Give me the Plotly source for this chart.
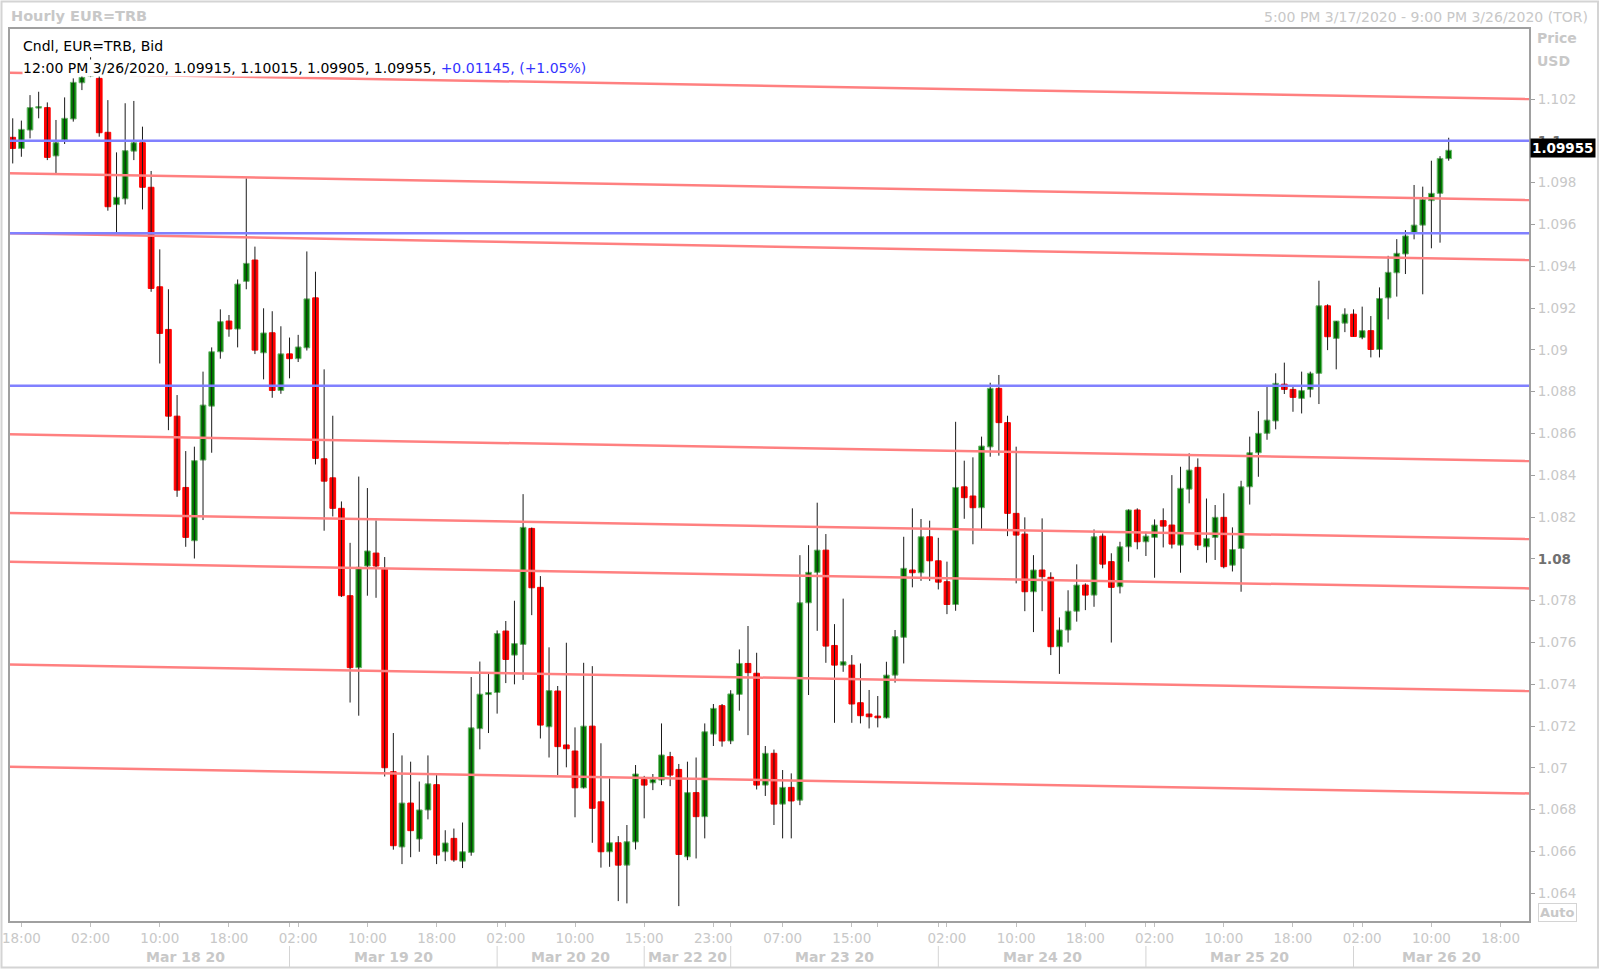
import plotly.graph_objects as go

# ---------------- data (hourly EUR=TRB candles, bar 0 = 5:00 PM 3/17/2020) ----------------
OPEN = [1.10017, 1.09964, 1.10052, 1.10157, 1.10159, 1.09928, 1.10004, 1.10105, 1.10278, 1.10310,
        1.10299, 1.10041, 1.09695, 1.09723, 1.09951, 1.09991, 1.09778, 1.09302, 1.09098, 1.08683,
        1.08342, 1.08087, 1.08473, 1.08731, 1.08991, 1.09138, 1.09100, 1.09328, 1.09430, 1.08986,
        1.09082, 1.08806, 1.08981, 1.08958, 1.09010, 1.09249, 1.08479, 1.08388, 1.08242, 1.07824,
        1.07480, 1.07966, 1.08028, 1.07954, 1.06982, 1.06622, 1.06832, 1.06660, 1.06799, 1.06920,
        1.06599, 1.06663, 1.06554, 1.06596, 1.07188, 1.07351, 1.07361, 1.07655, 1.07540, 1.07591,
        1.08146, 1.07864, 1.07197, 1.07368, 1.07110, 1.07081, 1.06905, 1.07200, 1.06838, 1.06599,
        1.06642, 1.06535, 1.06646, 1.06945, 1.06929, 1.06942, 1.07054, 1.06993, 1.06575, 1.06882,
        1.06767, 1.07162, 1.07298, 1.07129, 1.07352, 1.07500, 1.07453, 1.06918, 1.07070, 1.06827,
        1.06907, 1.06846, 1.07790, 1.07936, 1.08042, 1.07586, 1.07492, 1.07492, 1.07312, 1.07258,
        1.07248, 1.07240, 1.07444, 1.07625, 1.07947, 1.07934, 1.08106, 1.07991, 1.07891, 1.07782,
        1.08345, 1.08301, 1.08245, 1.08536, 1.08816, 1.08652, 1.08218, 1.08119, 1.07843, 1.07947,
        1.07912, 1.07580, 1.07660, 1.07750, 1.07875, 1.07827, 1.08109, 1.07987, 1.07867, 1.08058,
        1.08234, 1.08082, 1.08103, 1.08183, 1.08162, 1.08066, 1.08334, 1.08438, 1.08058, 1.08103,
        1.08199, 1.07970, 1.08050, 1.08345, 1.08508, 1.08601, 1.08660, 1.08836, 1.08811, 1.08768,
        1.08811, 1.08888, 1.09211, 1.09055, 1.09128, 1.09171, 1.09059, 1.09092, 1.09002, 1.09249,
        1.09369, 1.09459, 1.09562, 1.09597, 1.09714, 1.09749, 1.09915]
HIGH = [1.10108, 1.10097, 1.10219, 1.10235, 1.10184, 1.10100, 1.10208, 1.10299, 1.10323, 1.10400,
        1.10310, 1.10195, 1.09945, 1.10180, 1.10191, 1.10068, 1.09856, 1.09481, 1.09290, 1.08784,
        1.08516, 1.08537, 1.08896, 1.09012, 1.09194, 1.09167, 1.09337, 1.09821, 1.09494, 1.09199,
        1.09185, 1.09113, 1.09059, 1.09072, 1.09471, 1.09374, 1.08907, 1.08685, 1.08275, 1.08077,
        1.08394, 1.08339, 1.08184, 1.08009, 1.07167, 1.07060, 1.07030, 1.06935, 1.07060, 1.06972,
        1.06702, 1.06710, 1.06739, 1.07435, 1.07509, 1.07451, 1.07658, 1.07703, 1.07800, 1.08310,
        1.08150, 1.07918, 1.07577, 1.07392, 1.07599, 1.07194, 1.07503, 1.07487, 1.07118, 1.06950,
        1.06674, 1.06727, 1.07014, 1.06962, 1.06971, 1.07213, 1.07077, 1.07019, 1.07030, 1.07050,
        1.07213, 1.07306, 1.07306, 1.07372, 1.07567, 1.07679, 1.07551, 1.07105, 1.07088, 1.06990,
        1.06974, 1.08018, 1.08066, 1.08269, 1.08119, 1.07688, 1.07810, 1.07540, 1.07500, 1.07373,
        1.07344, 1.07508, 1.07660, 1.08106, 1.08242, 1.08191, 1.08183, 1.08101, 1.07987, 1.08656,
        1.08470, 1.08486, 1.08585, 1.08843, 1.08880, 1.08685, 1.08537, 1.08199, 1.08018, 1.08194,
        1.07936, 1.07720, 1.07850, 1.07974, 1.07883, 1.08141, 1.08122, 1.08027, 1.08082, 1.08237,
        1.08242, 1.08130, 1.08189, 1.08242, 1.08401, 1.08441, 1.08505, 1.08481, 1.08289, 1.08258,
        1.08314, 1.08151, 1.08374, 1.08585, 1.08707, 1.08824, 1.08888, 1.08939, 1.08823, 1.08896,
        1.08896, 1.09331, 1.09218, 1.09138, 1.09199, 1.09194, 1.09207, 1.09162, 1.09299, 1.09450,
        1.09530, 1.09573, 1.09789, 1.09781, 1.09905, 1.09927, 1.10015]
LOW = [1.09892, 1.09924, 1.10012, 1.10108, 1.09908, 1.09845, 1.09985, 1.10092, 1.10243, 1.10305,
       1.10020, 1.09666, 1.09561, 1.09696, 1.09908, 1.09672, 1.09278, 1.08935, 1.08616, 1.08297,
       1.08058, 1.08002, 1.08186, 1.08508, 1.08958, 1.09063, 1.09012, 1.09290, 1.08980, 1.08859,
       1.08771, 1.08790, 1.08864, 1.08942, 1.08997, 1.08452, 1.08135, 1.08203, 1.07818, 1.07313,
       1.07250, 1.07824, 1.07814, 1.06959, 1.06609, 1.06540, 1.06573, 1.06599, 1.06754, 1.06540,
       1.06554, 1.06551, 1.06521, 1.06580, 1.07089, 1.07167, 1.07260, 1.07406, 1.07400, 1.07421,
       1.07731, 1.07141, 1.07050, 1.06966, 1.07003, 1.06764, 1.06902, 1.06642, 1.06523, 1.06527,
       1.06363, 1.06352, 1.06610, 1.06759, 1.06894, 1.06918, 1.06913, 1.06339, 1.06559, 1.06567,
       1.06663, 1.07105, 1.07102, 1.07114, 1.07274, 1.07157, 1.06897, 1.06866, 1.06727, 1.06663,
       1.06663, 1.06822, 1.07349, 1.07656, 1.07503, 1.07216, 1.07460, 1.07216, 1.07213, 1.07189,
       1.07194, 1.07237, 1.07408, 1.07500, 1.07864, 1.07895, 1.07895, 1.07854, 1.07736, 1.07752,
       1.08192, 1.08070, 1.08138, 1.08489, 1.08494, 1.08109, 1.07883, 1.07750, 1.07650, 1.07750,
       1.07540, 1.07450, 1.07600, 1.07700, 1.07755, 1.07771, 1.07955, 1.07600, 1.07835, 1.07987,
       1.08046, 1.08014, 1.07910, 1.08055, 1.08050, 1.07934, 1.08266, 1.08042, 1.07982, 1.07995,
       1.07955, 1.07940, 1.07843, 1.08260, 1.08393, 1.08570, 1.08620, 1.08789, 1.08704, 1.08696,
       1.08773, 1.08741, 1.08999, 1.08907, 1.09085, 1.09064, 1.09051, 1.08964, 1.08964, 1.09146,
       1.09255, 1.09363, 1.09529, 1.09266, 1.09486, 1.09513, 1.09905]
CLOSE = [1.09964, 1.10055, 1.10159, 1.10164, 1.09921, 1.09991, 1.10108, 1.10280, 1.10304, 1.10360,
         1.10039, 1.09685, 1.09730, 1.09953, 1.09991, 1.09778, 1.09294, 1.09079, 1.08683, 1.08329,
         1.08103, 1.08470, 1.08736, 1.08991, 1.09135, 1.09100, 1.09315, 1.09414, 1.08999, 1.09081,
         1.08806, 1.08981, 1.08958, 1.09014, 1.09244, 1.08481, 1.08372, 1.08242, 1.07824, 1.07480,
         1.07960, 1.08038, 1.07966, 1.07001, 1.06628, 1.06832, 1.06700, 1.06799, 1.06924, 1.06583,
         1.06641, 1.06560, 1.06599, 1.07192, 1.07353, 1.07361, 1.07643, 1.07519, 1.07595, 1.08151,
         1.07862, 1.07205, 1.07370, 1.07102, 1.07092, 1.06905, 1.07200, 1.06807, 1.06599, 1.06642,
         1.06535, 1.06647, 1.06971, 1.06918, 1.06945, 1.07062, 1.06966, 1.06586, 1.06882, 1.06767,
         1.07173, 1.07285, 1.07129, 1.07354, 1.07500, 1.07456, 1.06918, 1.07070, 1.06827, 1.06907,
         1.06842, 1.07790, 1.07936, 1.08042, 1.07583, 1.07492, 1.07508, 1.07306, 1.07250, 1.07245,
         1.07240, 1.07444, 1.07628, 1.07955, 1.07934, 1.08106, 1.07991, 1.07889, 1.07782, 1.08342,
         1.08293, 1.08245, 1.08540, 1.08816, 1.08652, 1.08218, 1.08114, 1.07843, 1.07947, 1.07915,
         1.07580, 1.07660, 1.07750, 1.07875, 1.07827, 1.08106, 1.07975, 1.07864, 1.08058, 1.08234,
         1.08082, 1.08109, 1.08162, 1.08157, 1.08071, 1.08338, 1.08425, 1.08066, 1.08098, 1.08199,
         1.07963, 1.08045, 1.08345, 1.08508, 1.08601, 1.08664, 1.08840, 1.08811, 1.08773, 1.08805,
         1.08888, 1.09211, 1.09063, 1.09138, 1.09171, 1.09064, 1.09092, 1.09002, 1.09246, 1.09371,
         1.09462, 1.09545, 1.09597, 1.09720, 1.09749, 1.09916, 1.09955]

# drawn levels
BLUE_LEVELS = [1.10000, 1.09558, 1.08828]
RED_LEFT = [1.10326, 1.09845, 1.09558, 1.08596, 1.08220, 1.07986, 1.07495, 1.07006]
RED_RIGHT = [1.10200, 1.09717, 1.09430, 1.08468, 1.08095, 1.07859, 1.07368, 1.06878]

# axis labels
X_TICK_BARS = [1, 9, 17, 25, 33, 41, 49, 57, 65, 73, 81, 89, 97, 108, 116, 124, 132, 140, 148, 156, 164, 172]
X_TICK_LABELS = ["18:00", "02:00", "10:00", "18:00", "02:00", "10:00", "18:00", "02:00", "10:00", "15:00",
                 "23:00", "07:00", "15:00", "02:00", "10:00", "18:00", "02:00", "10:00", "18:00", "02:00",
                 "10:00", "18:00"]
X_MINOR_TICKS = [100]
DAY_LABELS = ["Mar 18 20", "Mar 19 20", "Mar 20 20", "Mar 22 20", "Mar 23 20", "Mar 24 20", "Mar 25 20", "Mar 26 20"]
DAY_STARTS = [8, 32, 56, 73, 83, 107, 131, 155]
Y_TICK_LABELS = ["1.064", "1.066", "1.068", "1.07", "1.072", "1.074", "1.076", "1.078", "1.08", "1.082",
                 "1.084", "1.086", "1.088", "1.09", "1.092", "1.094", "1.096", "1.098", "1.1", "1.102"]
Y_STRONG = ["1.08", "1.1"]
LAST_PRICE = 1.09955

X_MIN, X_MAX = -0.43, 175.4
Y_MIN, Y_MAX = 1.06263, 1.10540

FONT = "DejaVu Sans, Verdana, sans-serif"
GREY = "#c8c8c8"

# ---------------- geometry helpers (pixel -> paper) ----------------
W, H = 1600, 970
ML, MR, MT, MB = 9, 70, 28, 48
PW, PH = W - ML - MR, H - MT - MB


def xp(px):
    return (px - ML) / PW


def yp(py):
    return (H - MB - py) / PH


idx = list(range(len(OPEN)))
fig = go.Figure()

# wicks
wx, wy = [], []
for i in idx:
    wx += [i, i, None]
    wy += [LOW[i], HIGH[i], None]
fig.add_trace(go.Scatter(x=wx, y=wy, mode="lines", line=dict(color="#1a1a1a", width=1),
                         hoverinfo="skip", showlegend=False))

# bodies
up = [CLOSE[i] >= OPEN[i] for i in idx]
fig.add_trace(go.Bar(
    x=idx,
    base=[min(OPEN[i], CLOSE[i]) for i in idx],
    y=[abs(CLOSE[i] - OPEN[i]) for i in idx],
    width=0.66,
    marker=dict(color=["#008000" if u else "#ff0000" for u in up],
                line=dict(color=["#6fb86f" if u else "#ff0000" for u in up], width=1)),
    hoverinfo="skip", showlegend=False))

# sloped red lines
for a, b in zip(RED_LEFT, RED_RIGHT):
    fig.add_trace(go.Scatter(x=[X_MIN, X_MAX], y=[a, b], mode="lines",
                             line=dict(color="#ff8080", width=2.5), hoverinfo="skip", showlegend=False))
# horizontal blue lines
for lvl in BLUE_LEVELS:
    fig.add_trace(go.Scatter(x=[X_MIN, X_MAX], y=[lvl, lvl], mode="lines",
                             line=dict(color="#8080ff", width=2.5), hoverinfo="skip", showlegend=False))

# ---------------- axes ----------------
xt_vals = X_TICK_BARS + X_MINOR_TICKS + DAY_STARTS[1:]
xt_text = X_TICK_LABELS + [""] * (len(X_MINOR_TICKS) + len(DAY_STARTS) - 1)

yt_text = []
for t in Y_TICK_LABELS:
    if t in Y_STRONG:
        yt_text.append('<b><span style="color:#707070">%s</span></b>' % t)
    else:
        yt_text.append(t)

fig.update_layout(
    width=W, height=H, autosize=False,
    margin=dict(l=ML, r=MR, t=MT, b=MB, pad=0, autoexpand=False),
    paper_bgcolor="white", plot_bgcolor="white",
    barmode="overlay",
    font=dict(family=FONT, size=14, color=GREY),
    xaxis=dict(range=[X_MIN, X_MAX], showgrid=False, zeroline=False, showline=False, automargin=False,
               tickmode="array", tickvals=xt_vals, ticktext=xt_text,
               ticks="outside", ticklen=4, tickcolor="#c0c0c0", tickwidth=1,
               tickfont=dict(family=FONT, size=13.5, color=GREY)),
    yaxis=dict(range=[Y_MIN, Y_MAX], side="right", showgrid=False, zeroline=False, showline=False,
               automargin=False,
               tickmode="array", tickvals=[float(t) for t in Y_TICK_LABELS], ticktext=yt_text,
               ticks="outside", ticklen=4, tickcolor="#a0a0a0", tickwidth=1,
               tickfont=dict(family=FONT, size=13.5, color=GREY)),
)

shapes = []
# outer frame
shapes.append(dict(type="rect", xref="paper", yref="paper", x0=xp(1.5), x1=xp(1598), y0=yp(967.5), y1=yp(1.5),
                   line=dict(color="#d4d4d4", width=2), layer="above"))
# plot frame
shapes.append(dict(type="rect", xref="paper", yref="paper", x0=0, x1=1, y0=0, y1=1,
                   line=dict(color="#a0a0a0", width=2), layer="above"))
# day separators in date row
for s in DAY_STARTS[1:]:
    shapes.append(dict(type="line", xref="x", yref="paper", x0=s, x1=s, y0=yp(946), y1=yp(967),
                       line=dict(color="#d4d4d4", width=1), layer="above"))
fig.update_layout(shapes=shapes)

ann = []
ann.append(dict(xref="paper", yref="paper", x=xp(9), y=yp(15.5), xanchor="left", yanchor="middle",
                text="<b>Hourly EUR=TRB</b>", showarrow=False, font=dict(family=FONT, size=14.5, color=GREY)))
ann.append(dict(xref="paper", yref="paper", x=xp(1590), y=yp(16.5), xanchor="right", yanchor="middle",
                text="5:00 PM 3/17/2020 - 9:00 PM 3/26/2020 (TOR)", showarrow=False,
                font=dict(family=FONT, size=14, color=GREY)))
ann.append(dict(xref="paper", yref="paper", x=xp(1535), y=yp(38.5), xanchor="left", yanchor="middle",
                text="<b>Price</b>", showarrow=False, font=dict(family=FONT, size=14, color=GREY)))
ann.append(dict(xref="paper", yref="paper", x=xp(1535), y=yp(61), xanchor="left", yanchor="middle",
                text="<b>USD</b>", showarrow=False, font=dict(family=FONT, size=14, color=GREY)))
ann.append(dict(xref="paper", yref="paper", x=xp(22), y=yp(46.5), xanchor="left", yanchor="middle",
                text="Cndl, EUR=TRB, Bid", showarrow=False, bgcolor="white", borderpad=0,
                font=dict(family=FONT, size=14, color="#000000")))
ann.append(dict(xref="paper", yref="paper", x=xp(22), y=yp(67.5), xanchor="left", yanchor="middle",
                text=("12:00 PM 3/26/2020, %.5f, %.5f, %.5f, %.5f, "
                      '<span style="color:#3333ff">+0.01145, (+1.05%%)</span>')
                % (OPEN[-1], HIGH[-1], LOW[-1], CLOSE[-1]),
                showarrow=False, bgcolor="white", borderpad=0,
                font=dict(family=FONT, size=14, color="#000000")))
ann.append(dict(xref="paper", yref="y", x=1.0, y=LAST_PRICE, xanchor="left", yanchor="middle", yshift=2,
                text="<b>%.5f</b>" % LAST_PRICE, showarrow=False, bgcolor="#000000", borderpad=1,
                font=dict(family=FONT, size=13.5, color="#ffffff")))
ann.append(dict(xref="paper", yref="paper", x=xp(1557), y=yp(912.5), xanchor="center", yanchor="middle",
                text="<b>Auto</b>", showarrow=False, bordercolor="#d4d4d4", borderwidth=1, borderpad=1,
                font=dict(family=FONT, size=13, color=GREY)))
ends = DAY_STARTS[1:] + [X_MAX]
for lab, a, b in zip(DAY_LABELS, DAY_STARTS, ends):
    ann.append(dict(xref="x", yref="paper", x=(a + b) / 2, y=yp(957), xanchor="center", yanchor="middle",
                    text="<b>%s</b>" % lab, showarrow=False, font=dict(family=FONT, size=14, color=GREY)))
fig.update_layout(annotations=ann)

fig.write_html("out.html", config=dict(displayModeBar=False),
               post_script="document.body.style.margin='0';document.body.style.overflow='hidden';")
